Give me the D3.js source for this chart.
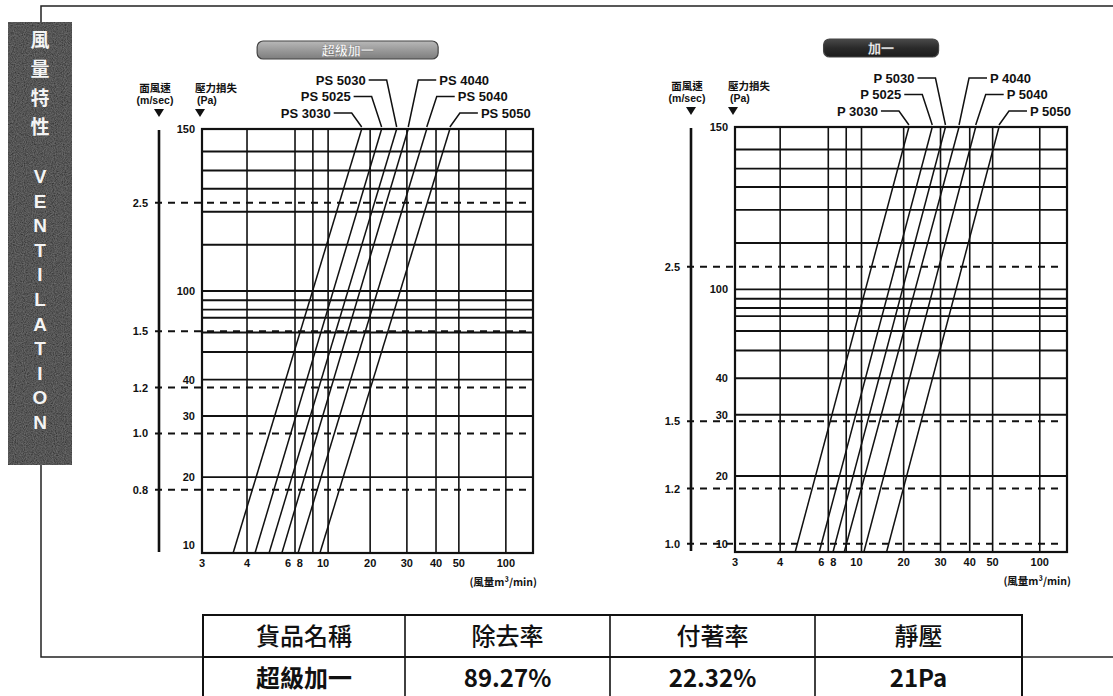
<!DOCTYPE html>
<html>
<head>
<meta charset="utf-8">
<script src="https://cdn.jsdelivr.net/npm/d3@7"></script>
<style>
  html, body { margin: 0; padding: 0; background: #fff; }
  svg { display: block; }
  .num { font-family: "Liberation Sans", Arial, sans-serif; font-weight: 700; fill: #111; }
  .cjk { font-family: "Noto Sans CJK TC", "Noto Sans CJK SC", sans-serif; fill: #111; }
</style>
</head>
<body>
<svg id="chart" width="1113" height="696"></svg>
<script>
// ---------------- data ----------------
const flowTicks = [3, 4, 6, 8, 10, 20, 30, 40, 50, 100];               // m³/min
const pressureGrid = [10, 20, 30, 40, 50, 60, 70, 80, 90, 100, 110, 120, 130, 140, 145, 150]; // Pa
const pressureTicks = [10, 20, 30, 40, 100, 150];

const superSeries = ["PS 3030", "PS 5025", "PS 5030", "PS 4040", "PS 5040", "PS 5050"];
const superFlowAt10Pa = [3.66, 4.28, 4.82, 5.37, 6.3, 8.87];
const superFlowAt150Pa = [17.4, 22.7, 26.8, 30.4, 36.5, 45.8];
const superVelocityTicks = [0.8, 1.0, 1.2, 1.5, 2.5];                  // m/sec

const plusSeries = ["P 3030", "P 5025", "P 5030", "P 4040", "P 5040", "P 5050"];
const plusFlowAt10Pa = [4.54, 5.56, 6.47, 7.75, 10.4, 15.1];
const plusFlowAt150Pa = [21.2, 27.4, 31.5, 36.0, 42.4, 54.9];
const plusVelocityTicks = [1.0, 1.2, 1.5, 2.5];

const tableHeader = ["貨品名稱", "除去率", "付著率", "靜壓"];
const tableRow = ["超級加一", "89.27%", "22.32%", "21Pa"];

// ---------------- printed chart paper ----------------
// where each stop of the printed grid sits across / up the plot (0..1)
const flowPaper = {
  stops: [3, 4, 6, 8, 10, 20, 30, 40, 50, 100, 150],
  at:    [0, .136, .281, .335, .381, .508, .619, .707, .776, .918, 1]
};
const pressurePaper = {
  stops: [10, 20, 30, 40, 50, 60, 70, 80, 90, 100, 110, 120, 130, 140, 145, 150],
  at:    [0, .179, .323, .409, .474, .52, .555, .574, .596, .618, .727, .805, .859, .902, .947, 1]
};
const labelNudge = { 6: -7, 8: -13, 10: -5 };   // crowded flow labels slide left

const svg = d3.select("#chart");

// grain for the dark side banner
const defs = svg.append("defs");
const grain = defs.append("filter").attr("id", "grain").attr("x", 0).attr("y", 0).attr("width", 1).attr("height", 1);
grain.append("feTurbulence").attr("type", "fractalNoise").attr("baseFrequency", 0.9).attr("numOctaves", 2).attr("result", "n");
grain.append("feColorMatrix").attr("in", "n").attr("type", "matrix")
  .attr("values", "0 0 0 0 0.35  0 0 0 0 0.35  0 0 0 0 0.35  0 0 0 0.55 -0.1").attr("result", "c");
grain.append("feComposite").attr("in", "c").attr("in2", "SourceGraphic").attr("operator", "in").attr("result", "m");
grain.append("feMerge").selectAll("feMergeNode").data(["SourceGraphic", "m"]).join("feMergeNode").attr("in", d => d);

const lightBadge = defs.append("linearGradient").attr("id", "badgeLight").attr("x1", 0).attr("y1", 0).attr("x2", 0).attr("y2", 1);
lightBadge.append("stop").attr("offset", 0).attr("stop-color", "#b9b9b9");
lightBadge.append("stop").attr("offset", 0.5).attr("stop-color", "#9a9a9a");
lightBadge.append("stop").attr("offset", 1).attr("stop-color", "#7d7d7d");
const darkBadge = defs.append("linearGradient").attr("id", "badgeDark").attr("x1", 0).attr("y1", 0).attr("x2", 0).attr("y2", 1);
darkBadge.append("stop").attr("offset", 0).attr("stop-color", "#4a4a4a");
darkBadge.append("stop").attr("offset", 0.5).attr("stop-color", "#2a2a2a");
darkBadge.append("stop").attr("offset", 1).attr("stop-color", "#1c1c1c");

// ---------------- outer frame ----------------
const frame = svg.append("g").attr("stroke", "#222").attr("stroke-width", 1.5).attr("fill", "none");
frame.append("path").attr("d", "M41,465 V657 H1113 M41,22 V6 H1113");

// side banner
const banner = svg.append("g");
banner.append("rect").attr("x", 8).attr("y", 22).attr("width", 64).attr("height", 443)
  .attr("fill", "#373737").attr("filter", "url(#grain)");
const titleChars = Array.from("風量特性");
banner.selectAll("text.ch").data(titleChars).join("text").attr("class", "ch")
  .attr("x", 40).attr("y", (d, i) => 47 + i * 29).attr("text-anchor", "middle")
  .style("font-family", "'Noto Sans CJK TC', sans-serif").style("font-weight", 700)
  .style("font-size", "19px").style("fill", "#f4f4f4").text(d => d);
const ventLetters = Array.from("VENTILATION");
banner.selectAll("text.lt").data(ventLetters).join("text").attr("class", "lt")
  .attr("x", 40).attr("y", (d, i) => 183 + i * 24.6).attr("text-anchor", "middle")
  .style("font-family", "'Liberation Sans', Arial, sans-serif").style("font-weight", 700)
  .style("font-size", "19px").style("fill", "#f4f4f4").text(d => d);

// ---------------- one ventilation nomograph ----------------
function drawChart(cfg) {
  const g = svg.append("g");
  const w = cfg.x1 - cfg.x0, h = cfg.y1 - cfg.y0;

  const xPaper = d3.scaleLinear()
    .domain(flowPaper.stops.map(Math.log10))
    .range(flowPaper.at.map(f => cfg.x0 + f * w));
  const x = v => xPaper(Math.log10(v));
  const y = d3.scaleLinear()
    .domain(pressurePaper.stops)
    .range(pressurePaper.at.map(f => cfg.y1 - f * h));
  const yVel = d3.scaleLog().domain(cfg.velocityDomain).range([cfg.y1, cfg.y0]);

  // horizontal pressure grid
  g.append("g").selectAll("line").data(pressureGrid.filter(p => p > 10 && p < 150)).join("line")
    .attr("x1", cfg.x0).attr("x2", cfg.x1).attr("y1", d => y(d)).attr("y2", d => y(d))
    .attr("stroke", "#111").attr("stroke-width", 1.9);
  // vertical flow grid
  g.append("g").selectAll("line").data(flowTicks.filter(v => v > 3)).join("line")
    .attr("x1", d => x(d)).attr("x2", d => x(d)).attr("y1", cfg.y0).attr("y2", cfg.y1)
    .attr("stroke", "#111").attr("stroke-width", 1.6);
  g.append("rect").attr("x", cfg.x0).attr("y", cfg.y0).attr("width", w).attr("height", h)
    .attr("fill", "none").attr("stroke", "#111").attr("stroke-width", 2.2);

  // face-velocity reference lines
  g.append("g").selectAll("line").data(cfg.velocityTicks).join("line")
    .attr("x1", cfg.axisX - 4).attr("x2", cfg.x1 - 3)
    .attr("y1", d => yVel(d)).attr("y2", d => yVel(d))
    .attr("stroke", "#111").attr("stroke-width", 2).attr("stroke-dasharray", "7,6");
  g.append("line").attr("x1", cfg.axisX).attr("x2", cfg.axisX)
    .attr("y1", cfg.y0 + 1).attr("y2", cfg.y1 - 1)
    .attr("stroke", "#111").attr("stroke-width", 2.6);
  g.append("g").selectAll("text").data(cfg.velocityTicks).join("text")
    .attr("class", "num").attr("x", cfg.axisX - 11).attr("y", d => yVel(d) + 4)
    .attr("text-anchor", "end").style("font-size", "11px")
    .text(d => d3.format(".1f")(d));

  // pressure labels
  g.append("g").selectAll("text").data(pressureTicks).join("text")
    .attr("class", "num").attr("x", cfg.x0 - 7).attr("y", d => y(d) + (d === 10 ? -4 : 4))
    .attr("text-anchor", "end").style("font-size", "11px").text(d => d);

  // flow labels
  g.append("g").selectAll("text").data(flowTicks).join("text")
    .attr("class", "num").attr("x", d => x(d) + (labelNudge[d] || 0)).attr("y", cfg.y1 + 14)
    .attr("text-anchor", "middle").style("font-size", "11px").text(d => d);
  g.append("text").attr("class", "cjk").attr("x", cfg.x1 + 4).attr("y", cfg.y1 + 33)
    .attr("text-anchor", "end").style("font-size", "10.5px").style("font-weight", 700)
    .text("(風量m³/min)");

  // axis headings
  const head = g.append("g");
  head.append("text").attr("class", "cjk").attr("x", cfg.axisX - 4).attr("y", cfg.y0 - 37)
    .attr("text-anchor", "middle").style("font-size", "10.5px").style("font-weight", 700).text("面風速");
  head.append("text").attr("class", "num").attr("x", cfg.axisX - 4).attr("y", cfg.y0 - 25)
    .attr("text-anchor", "middle").style("font-size", "10.5px").text("(m/sec)");
  head.append("text").attr("class", "cjk").attr("x", cfg.x0 - 7).attr("y", cfg.y0 - 37)
    .style("font-size", "10.5px").style("font-weight", 700).text("壓力損失");
  head.append("text").attr("class", "num").attr("x", cfg.x0 - 5).attr("y", cfg.y0 - 25)
    .style("font-size", "10.5px").text("(Pa)");
  head.selectAll("path").data([cfg.axisX, cfg.x0 - 2]).join("path")
    .attr("d", d => `M${d - 5},${cfg.y0 - 20} H${d + 5} L${d},${cfg.y0 - 12} Z`).attr("fill", "#111");

  // product badge
  const bx = cfg.x0 + 0.44 * w;
  g.append("rect").attr("x", bx - cfg.badgeWidth / 2).attr("y", cfg.y0 - 88)
    .attr("width", cfg.badgeWidth).attr("height", 18).attr("rx", 6)
    .attr("fill", cfg.badgeFill).attr("stroke", "#444").attr("stroke-width", 1.2);
  g.append("text").attr("x", bx).attr("y", cfg.y0 - 74)
    .attr("text-anchor", "middle")
    .style("font-family", "'Noto Sans CJK TC', sans-serif")
    .style("font-size", "13px").style("font-weight", 700)
    .style("fill", "#fff").style("stroke", "#666").style("stroke-width", 0.3).text(cfg.badge);

  // filter performance lines
  const rows = cfg.series.map((name, i) => ({
    name, lo: cfg.flow10[i], hi: cfg.flow150[i],
    side: i < 3 ? -1 : 1,
    row: i < 3 ? 2 - i : i - 3
  }));
  g.append("g").selectAll("line").data(rows).join("line")
    .attr("x1", d => x(d.lo)).attr("y1", y(10))
    .attr("x2", d => x(d.hi)).attr("y2", y(150))
    .attr("stroke", "#111").attr("stroke-width", 1.5);

  // series callouts
  const rowY = r => cfg.y0 - 49 + r * 16.5;
  g.append("g").selectAll("path").data(rows).join("path")
    .attr("d", d => {
      const tx = x(d.hi), ry = rowY(d.row);
      return `M${tx},${cfg.y0 - 2} L${tx + d.side * 10},${ry} H${tx + d.side * 28}`;
    })
    .attr("fill", "none").attr("stroke", "#111").attr("stroke-width", 1.5);
  g.append("g").selectAll("text").data(rows).join("text")
    .attr("class", "num").attr("x", d => x(d.hi) + d.side * 31).attr("y", d => rowY(d.row) + 4.5)
    .attr("text-anchor", d => d.side < 0 ? "end" : "start")
    .style("font-size", "13px").text(d => d.name);
}

drawChart({
  x0: 202, x1: 533, y0: 129, y1: 553, axisX: 159,
  velocityDomain: [0.622, 3.35], velocityTicks: superVelocityTicks,
  series: superSeries, flow10: superFlowAt10Pa, flow150: superFlowAt150Pa,
  badge: "超級加一", badgeWidth: 181, badgeFill: "url(#badgeLight)"
});
drawChart({
  x0: 735, x1: 1067, y0: 127, y1: 552, axisX: 691,
  velocityDomain: [0.973, 3.97], velocityTicks: plusVelocityTicks,
  series: plusSeries, flow10: plusFlowAt10Pa, flow150: plusFlowAt150Pa,
  badge: "加一", badgeWidth: 115, badgeFill: "url(#badgeDark)"
});

// ---------------- spec table ----------------
const colX = [203, 405, 610, 815, 1022];
const rowTop = [615, 657, 700];
const table = svg.append("g");
table.append("rect").attr("x", colX[0]).attr("y", rowTop[0])
  .attr("width", colX[4] - colX[0]).attr("height", rowTop[2] - rowTop[0])
  .attr("fill", "#fff").attr("stroke", "#111").attr("stroke-width", 2);
table.selectAll("line.c").data(colX.slice(1, 4)).join("line").attr("class", "c")
  .attr("x1", d => d).attr("x2", d => d).attr("y1", rowTop[0]).attr("y2", rowTop[2])
  .attr("stroke", "#111").attr("stroke-width", 1.6);
table.append("line").attr("x1", colX[0]).attr("x2", colX[4]).attr("y1", rowTop[1]).attr("y2", rowTop[1])
  .attr("stroke", "#111").attr("stroke-width", 1.8);
table.selectAll("text.h").data(tableHeader).join("text").attr("class", "h cjk")
  .attr("x", (d, i) => (colX[i] + colX[i + 1]) / 2).attr("y", 645)
  .attr("text-anchor", "middle").style("font-size", "24px").style("font-weight", 500).text(d => d);
table.selectAll("text.v").data(tableRow).join("text").attr("class", "v cjk")
  .attr("x", (d, i) => (colX[i] + colX[i + 1]) / 2).attr("y", 687)
  .attr("text-anchor", "middle").style("font-size", "24px").style("font-weight", 700).text(d => d);
</script>
</body>
</html>
